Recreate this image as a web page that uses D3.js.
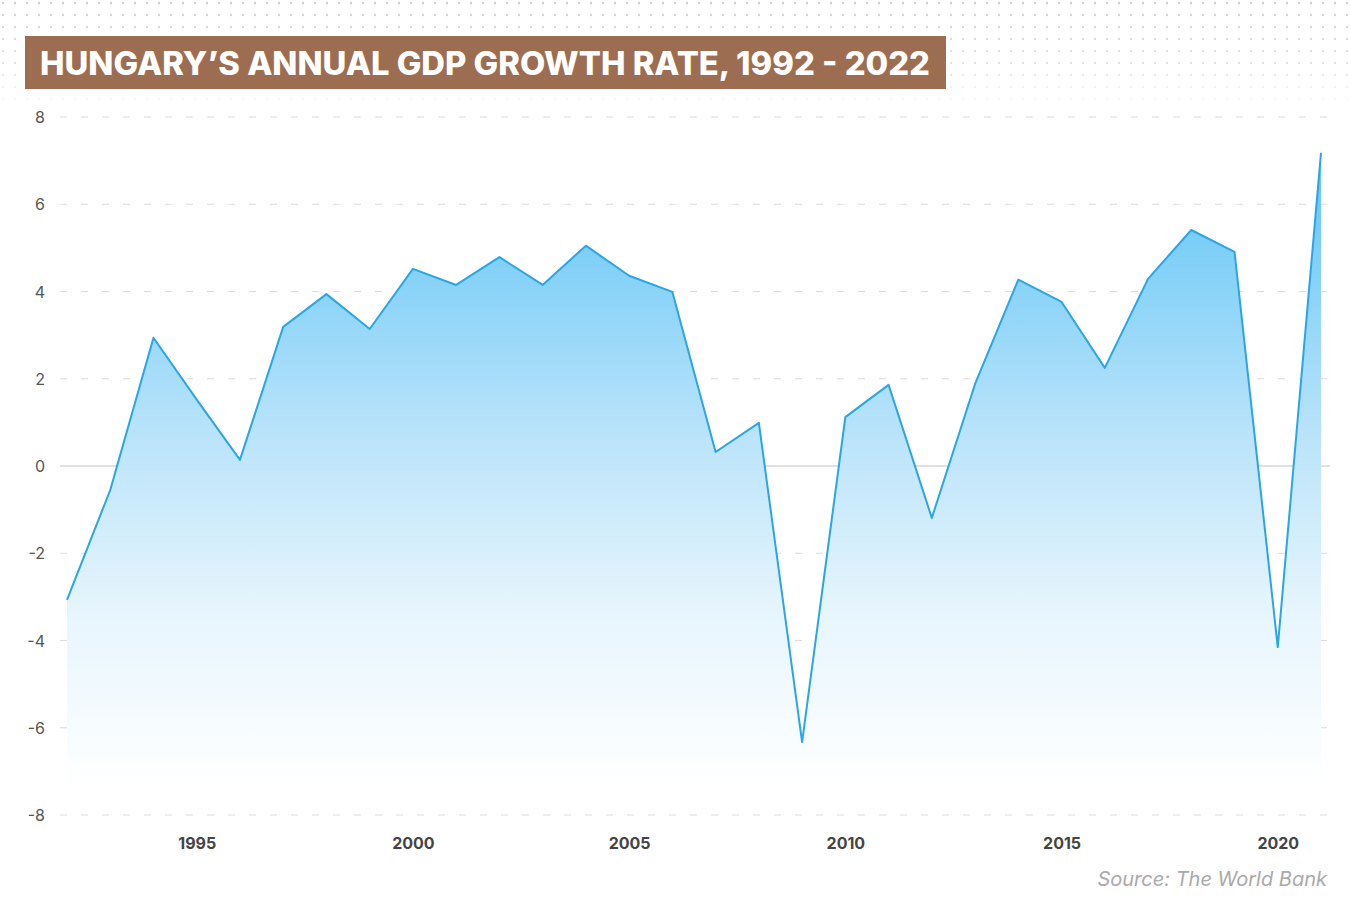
<!DOCTYPE html>
<html><head><meta charset="utf-8">
<script src="https://cdn.jsdelivr.net/npm/d3@7"></script>
<style>
html,body{margin:0;padding:0;background:#fff;}
svg{display:block;}
</style></head>
<body>
<svg id="chart" width="1350" height="909"></svg>
<script>
const years = [1992,1993,1994,1995,1996,1997,1998,1999,2000,2001,2002,2003,2004,2005,2006,2007,2008,2009,2010,2011,2012,2013,2014,2015,2016,2017,2018,2019,2020,2021];
const growth = [-3.07,-0.55,2.94,1.52,0.14,3.19,3.94,3.14,4.52,4.15,4.79,4.15,5.05,4.36,3.99,0.32,0.99,-6.33,1.12,1.86,-1.19,1.88,4.27,3.76,2.25,4.29,5.41,4.91,-4.15,7.18];
const yTicks = [-8,-6,-4,-2,0,2,4,6,8];
const xTicks = [1995,2000,2005,2010,2015,2020];
const titleText = "HUNGARY\u2019S ANNUAL GDP GROWTH RATE, 1992 - 2022";
const sourceText = "Source: The World Bank";
const fillBase = -7.4;

const data = years.map((y,i)=>({year:y, v:growth[i]}));
const svg = d3.select("#chart");
const defs = svg.append("defs");

// dotted background pattern
const pat = defs.append("pattern").attr("id","dots").attr("patternUnits","userSpaceOnUse")
  .attr("width",12).attr("height",12);
pat.append("circle").attr("cx",3).attr("cy",3).attr("r",1.2).attr("fill","#cfcfcf");
const fadeG = defs.append("linearGradient").attr("id","fadeV").attr("x1",0).attr("y1",0).attr("x2",0).attr("y2",1);
fadeG.append("stop").attr("offset","0%").attr("stop-color","#fff").attr("stop-opacity",0);
fadeG.append("stop").attr("offset","55%").attr("stop-color","#fff").attr("stop-opacity",0.4);
fadeG.append("stop").attr("offset","100%").attr("stop-color","#fff").attr("stop-opacity",1);
svg.append("rect").attr("x",0).attr("y",0).attr("width",1350).attr("height",110).attr("fill","url(#dots)");
svg.append("rect").attr("x",0).attr("y",0).attr("width",1350).attr("height",111).attr("fill","url(#fadeV)");

// title
svg.append("rect").attr("x",25).attr("y",36).attr("width",921).attr("height",53).attr("fill","#9d6d51");
const title = svg.append("text").attr("x",40).attr("y",75)
  .attr("font-family","Inter, 'Open Sans', sans-serif").attr("font-weight",800)
  .attr("font-size",32).attr("fill","#fff").text(titleText);
title.attr("textLength",890).attr("lengthAdjust","spacingAndGlyphs");

// scales
const x = d3.scaleLinear().domain([1992,2021]).range([67,1321]);
const y = d3.scaleLinear().domain([-8,8]).range([815,117]);

// gridlines
const grid = svg.append("g");
grid.selectAll("line").data(yTicks).join("line")
  .attr("x1",60).attr("x2",1330)
  .attr("y1",d=>y(d)).attr("y2",d=>y(d))
  .attr("stroke",d=>d===0?"#d6d6d6":"#dcdcdc")
  .attr("stroke-width",d=>d===0?1.3:1.2)
  .attr("stroke-dasharray",d=>d===0?null:"7,14");

// area gradient
const ag = defs.append("linearGradient").attr("id","areaG").attr("gradientUnits","userSpaceOnUse")
  .attr("x1",0).attr("x2",0).attr("y1",y(7.2)).attr("y2",y(fillBase));
ag.append("stop").attr("offset","0%").attr("stop-color","#5fc4f6");
ag.append("stop").attr("offset","45%").attr("stop-color","#bbe4fa");
ag.append("stop").attr("offset","72%").attr("stop-color","#e6f5fd");
ag.append("stop").attr("offset","100%").attr("stop-color","#ffffff");

const area = d3.area().x(d=>x(d.year)).y0(y(fillBase)).y1(d=>y(d.v));
svg.append("path").datum(data).attr("d",area).attr("fill","url(#areaG)");
const line = d3.line().x(d=>x(d.year)).y(d=>y(d.v));
svg.append("path").datum(data).attr("d",line).attr("fill","none")
  .attr("stroke","#29a6e6").attr("stroke-width",2).attr("stroke-linejoin","round");

// y axis labels
const yAxis = d3.axisLeft(y).tickValues(yTicks).tickSize(0).tickPadding(0)
  .tickFormat(d=>String(d).replace("\u2212","-"));
const yg = svg.append("g").attr("transform","translate(45,0)").call(yAxis);
yg.select(".domain").remove();
yg.selectAll("text").attr("font-family","Inter, 'Open Sans', sans-serif").attr("font-size",16)
  .attr("fill","#555").attr("dy","0.35em");

// x axis labels
const xAxis = d3.axisBottom(x).tickValues(xTicks).tickSize(0).tickPadding(0).tickFormat(d3.format("d"));
const xg = svg.append("g").attr("transform","translate(0,838)").call(xAxis);
xg.select(".domain").remove();
xg.selectAll("text").attr("font-family","Inter, 'Open Sans', sans-serif").attr("font-size",16)
  .attr("font-weight",700).attr("fill","#444").attr("dy","0.7em");

// source
svg.append("text").attr("x",1327).attr("y",886).attr("text-anchor","end")
  .attr("font-family","Inter, 'Open Sans', sans-serif").attr("font-style","italic")
  .attr("font-size",20).attr("fill","#a9a9a9").text(sourceText);
</script>
</body></html>
